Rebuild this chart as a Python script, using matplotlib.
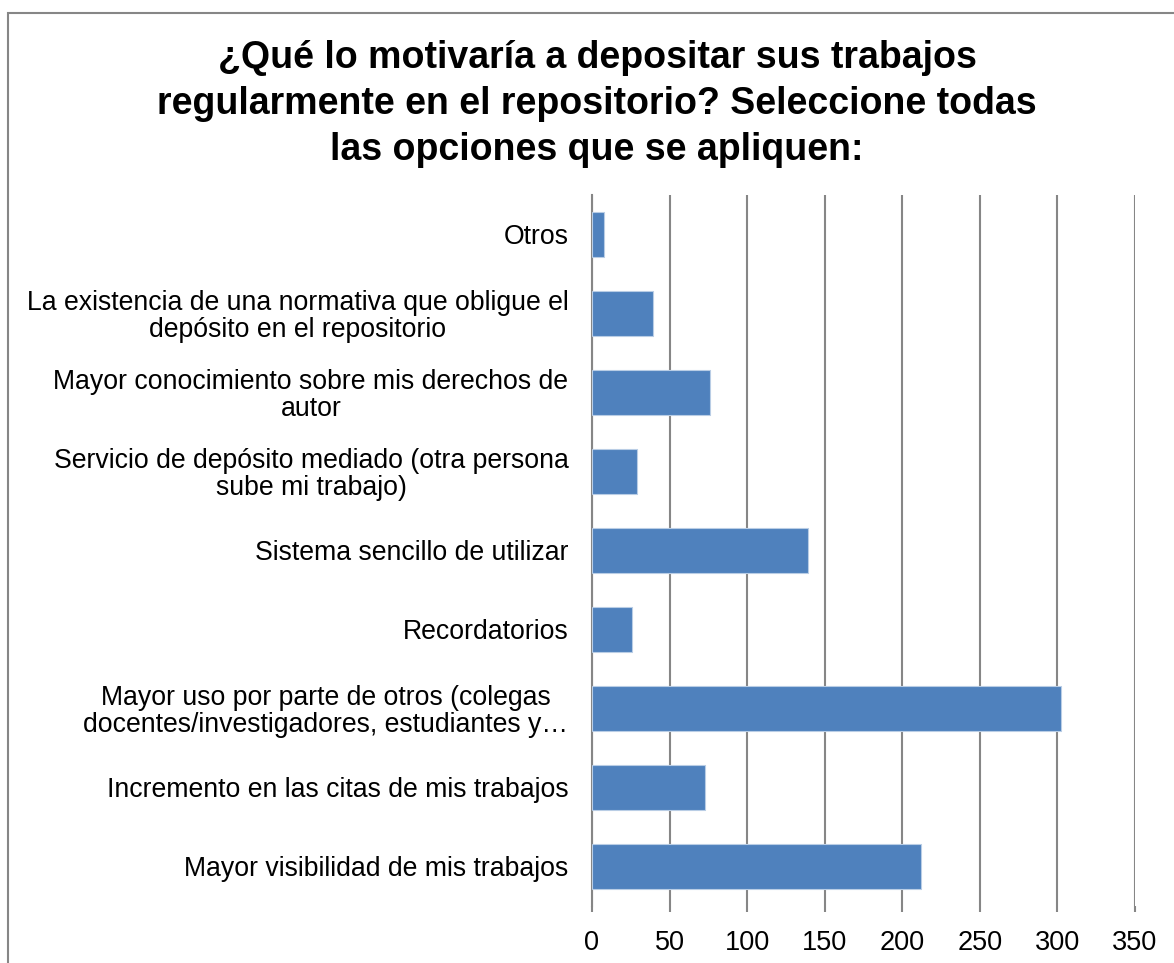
import matplotlib
matplotlib.use("Agg")
import matplotlib.pyplot as plt
from matplotlib.patches import Rectangle

categories = [
    "Mayor visibilidad de mis trabajos",
    "Incremento en las citas de mis trabajos",
    "Mayor uso por parte de otros (colegas\ndocentes/investigadores, estudiantes y…",
    "Recordatorios",
    "Sistema sencillo de utilizar",
    "Servicio de depósito mediado (otra persona\nsube mi trabajo)",
    "Mayor conocimiento sobre mis derechos de\nautor",
    "La existencia de una normativa que obligue el\ndepósito en el repositorio",
    "Otros",
]
values = [212, 73, 302, 26, 139, 29, 76, 39, 8]
xticks = [0, 50, 100, 150, 200, 250, 300, 350]
title = "¿Qué lo motivaría a depositar sus trabajos\nregularmente en el repositorio? Seleccione todas\nlas opciones que se apliquen:"

plt.rcParams['font.family'] = ['Liberation Sans', 'DejaVu Sans']

W, H = 1174, 963
fig = plt.figure(figsize=(W / 100, H / 100), dpi=100)
fig.patch.set_facecolor('white')

# outer chart border
fig.add_artist(Rectangle((8 / W, -0.1), 1.2, (H - 13) / H + 0.1, transform=fig.transFigure,
                         fill=False, edgecolor='#868686', linewidth=1.5))

left, right = 592 / W, 1135 / W
top, bottom = (H - 195) / H, (H - 905.5) / H
ax = fig.add_axes([left, bottom, right - left, top - bottom])

pos = list(range(len(categories)))
ax.barh(pos, values, height=0.57, color='#4F81BD', edgecolor='#B9CDE5', linewidth=0.8, zorder=3)
ax.set_xlim(0, 350)
ax.set_ylim(-0.5, len(categories) - 0.5)
ax.set_xticks(xticks)
ax.set_xticklabels([str(t) for t in xticks], fontsize=19.5)
ax.set_yticks(pos)
ax.set_yticklabels(categories, fontsize=19.2, multialignment='center', linespacing=1.05)
ax.tick_params(axis='y', length=0, pad=17)
ax.tick_params(axis='x', length=4.5, width=1.5, color='#868686', pad=13)
ax.grid(axis='x', color='#868686', linewidth=1.5, zorder=0)
for s in ['top', 'right', 'bottom']:
    ax.spines[s].set_visible(False)
ax.spines['left'].set_color('#868686')
ax.spines['left'].set_linewidth(1.5)

fig.text(597 / W, (H - 40) / H, title, ha='center', va='top', fontsize=27, fontweight='bold',
         linespacing=1.36)

fig.savefig('out.png', dpi=100, facecolor='white')
